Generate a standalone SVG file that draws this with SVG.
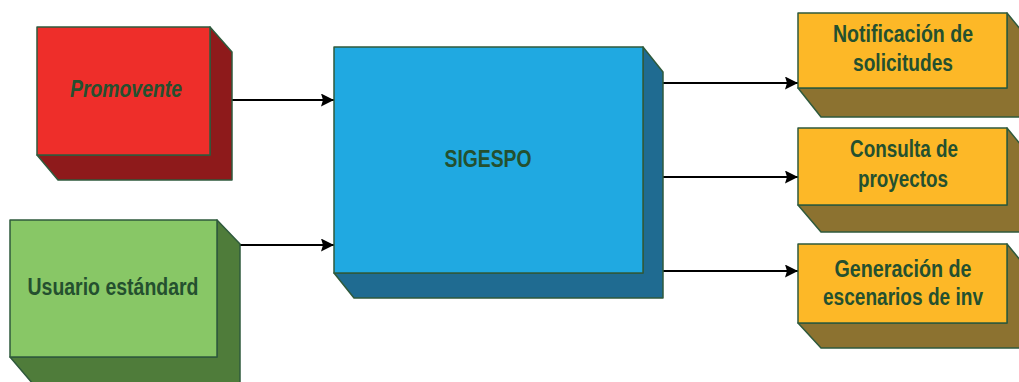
<svg xmlns="http://www.w3.org/2000/svg" width="1019" height="382" viewBox="0 0 1019 382">
<defs>
<style>
.e{stroke:#2f5a3c;stroke-width:1.5;stroke-linejoin:round}
.t{font-family:"Liberation Sans",Arial,sans-serif;font-size:23px;font-weight:bold;fill:#24502f;text-anchor:middle}
.c{stroke:#000;stroke-width:2;fill:none;marker-end:url(#ah)}
</style>
<marker id="ah" viewBox="0 0 13 13" refX="13" refY="6.5" markerWidth="13" markerHeight="13" markerUnits="userSpaceOnUse" orient="auto">
<path d="M0,0 L13,6.5 L0,13 L2,6.5 z" fill="#000"/>
</marker>
</defs>
<rect width="1019" height="382" fill="#fff"/>
<g id="connectors">
<path class="c" d="M232,100 H334"/>
<path class="c" d="M240,245 H334"/>
<path class="c" d="M663,83 H798"/>
<path class="c" d="M663,177 H798"/>
<path class="c" d="M663,271 H798"/>
</g>
<g id="promovente">
<path class="e" fill="#8e1a1b" d="M210,27 L232,52 L232,180 L58,180 L37,155 L210,155 Z"/>
<rect class="e" x="37" y="27" width="173" height="128" fill="#ee2e2a"/>
<text class="t" x="126" y="97" font-style="italic" textLength="112" lengthAdjust="spacingAndGlyphs">Promovente</text>
</g>
<g id="usuario">
<path class="e" fill="#4f7c3a" d="M217,220 L240,244 L240,384 L33,384 L10,357 L217,357 Z"/>
<rect class="e" x="10" y="220" width="207" height="137" fill="#88c766"/>
<text class="t" x="113" y="295" textLength="171" lengthAdjust="spacingAndGlyphs">Usuario estándard</text>
</g>
<g id="sigespo">
<path class="e" fill="#1f6b91" d="M643,47 L663,72 L663,298 L354,298 L334,273 L643,273 Z"/>
<rect class="e" x="334" y="47" width="309" height="226" fill="#20a9e1"/>
<text class="t" x="488" y="167" textLength="87" lengthAdjust="spacingAndGlyphs">SIGESPO</text>
</g>
<g id="notificacion">
<path class="e" fill="#8c7230" d="M1007,13 L1030,41 L1030,117 L821,117 L798,88 L1007,88 Z"/>
<rect class="e" x="798" y="13" width="209" height="75" fill="#fdb827"/>
<text class="t" x="903" y="42" textLength="140" lengthAdjust="spacingAndGlyphs">Notificación de</text>
<text class="t" x="903" y="71" textLength="100" lengthAdjust="spacingAndGlyphs">solicitudes</text>
</g>
<g id="consulta">
<path class="e" fill="#8c7230" d="M1007,128 L1030,156 L1030,232 L821,232 L798,205 L1007,205 Z"/>
<rect class="e" x="798" y="128" width="209" height="77" fill="#fdb827"/>
<text class="t" x="904" y="157" textLength="108" lengthAdjust="spacingAndGlyphs">Consulta de</text>
<text class="t" x="903" y="187" textLength="90" lengthAdjust="spacingAndGlyphs">proyectos</text>
</g>
<g id="generacion">
<path class="e" fill="#8c7230" d="M1007,244 L1030,272 L1030,348 L821,348 L798,323 L1007,323 Z"/>
<rect class="e" x="798" y="244" width="209" height="79" fill="#fdb827"/>
<text class="t" x="903" y="277" textLength="137" lengthAdjust="spacingAndGlyphs">Generación de</text>
<text class="t" x="903" y="305" textLength="160" lengthAdjust="spacingAndGlyphs">escenarios de inv</text>
</g>
</svg>
